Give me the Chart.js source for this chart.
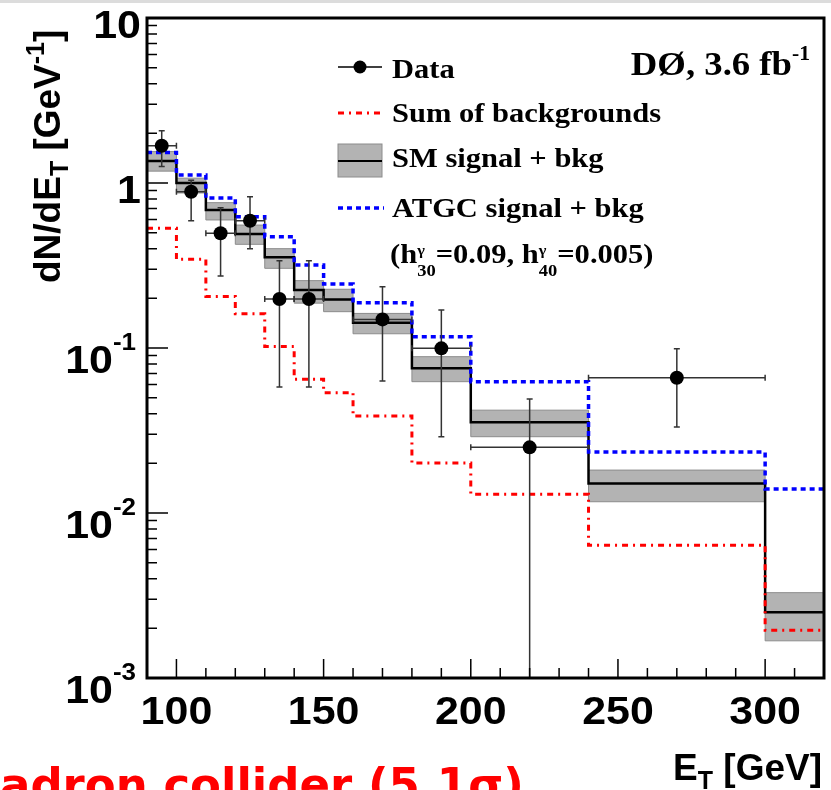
<!DOCTYPE html>
<html>
<head>
<meta charset="utf-8">
<script src="https://cdn.jsdelivr.net/npm/chart.js@4.4.1/dist/chart.umd.min.js"></script>
<style>
html, body { margin: 0; padding: 0; background: #fff; }
#wrap { width: 831px; height: 790px; overflow: hidden; }
</style>
</head>
<body>
<div id="wrap"><canvas id="graficoEt" width="831" height="790"></canvas></div>
<script>
// bin edges of the E_T histogram (GeV)
var binEdges = [90, 100, 110, 120, 130, 140, 150, 160, 180, 200, 240, 300, 320];

// SM signal + bkg: central value and band
var smCentral = [1.36, 1.0, 0.686, 0.49, 0.355, 0.225, 0.197, 0.142, 0.0753, 0.0355, 0.0151, 0.0025];
var smUp      = [1.55, 1.07, 0.76, 0.556, 0.40, 0.256, 0.227, 0.162, 0.0886, 0.042, 0.0182, 0.00329];
var smDown    = [1.18, 0.87, 0.597, 0.425, 0.304, 0.187, 0.166, 0.122, 0.0625, 0.029, 0.0117, 0.00168];

// ATGC signal + bkg
var atgc = [1.53, 1.12, 0.81, 0.625, 0.473, 0.318, 0.244, 0.188, 0.117, 0.0625, 0.0234, 0.0140];

// sum of backgrounds
var bkg = [0.531, 0.345, 0.205, 0.161, 0.102, 0.0646, 0.0536, 0.0387, 0.0201, 0.0130, 0.00637, 0.00195];

// data points
var dataX    = [95, 105, 115, 125, 135, 145, 170, 190, 220, 270];
var dataY    = [1.68, 0.885, 0.496, 0.59, 0.198, 0.198, 0.149, 0.0995, 0.025, 0.066];
var dataHi   = [2.07, 1.04, 0.708, 0.826, 0.338, 0.338, 0.235, 0.17, 0.049, 0.099];
var dataLo   = [1.26, 0.59, 0.273, 0.40, 0.058, 0.058, 0.063, 0.029, 0.0001, 0.0332];
var dataXLo  = [90, 100, 110, 120, 130, 140, 160, 180, 200, 240];
var dataXHi  = [100, 110, 120, 130, 140, 150, 180, 200, 240, 300];

// axis ticks
var xTickVals = [100, 150, 200, 250, 300];
var xTickLabels = ['100', '150', '200', '250', '300'];
var yTickVals = [10, 1, 0.1, 0.01, 0.001];
var yTickBase = ['10', '1', '10', '10', '10'];
var yTickExp = ['', '', '-1', '-2', '-3'];

var SANS = '"Liberation Sans", Arial, sans-serif';
var SERIF = '"Liberation Serif", "Times New Roman", serif';

function stepPoints(vals) {
    var pts = [];
    for (var i = 0; i < vals.length; i++) {
        pts.push({x: binEdges[i], y: vals[i]});
    }
    pts.push({x: binEdges[binEdges.length - 1], y: vals[vals.length - 1]});
    return pts;
}

var puntiDati = [];
for (var i = 0; i < dataX.length; i++) {
    puntiDati.push({x: dataX[i], y: dataY[i]});
}

// draws a list of text pieces (with sub/superscripts) one after another
function drawParts(ctx, parts, x, y, sx, align) {
    var total = 0;
    parts.forEach(function (p) {
        ctx.font = p.f;
        p.w = ctx.measureText(p.t).width * sx;
        if (!p.keep) total += p.w;
    });
    var cx = x;
    if (align === 'right') cx = x - total;
    if (align === 'center') cx = x - total / 2;
    parts.forEach(function (p) {
        ctx.save();
        ctx.font = p.f;
        ctx.translate(cx, y + (p.dy || 0));
        ctx.scale(sx, 1);
        ctx.textAlign = 'left';
        ctx.textBaseline = 'alphabetic';
        ctx.fillText(p.t, 0, 0);
        ctx.restore();
        if (!p.keep) cx += p.w;
    });
}

var DATA_INDEX = 5;

var disegno = {
    id: 'disegno',
    beforeDraw: function (chart) {
        var ctx = chart.ctx;
        ctx.save();
        ctx.fillStyle = '#fff';
        ctx.fillRect(0, 0, chart.width, chart.height);
        ctx.fillStyle = '#dcdcdc';
        ctx.fillRect(0, 0, chart.width, 3);
        ctx.restore();
    },
    beforeDatasetDraw: function (chart, args) {
        if (args.index !== DATA_INDEX) return;
        var ctx = chart.ctx, xs = chart.scales.x, ys = chart.scales.y, a = chart.chartArea;
        ctx.save();
        ctx.beginPath();
        ctx.rect(a.left, a.top, a.right - a.left, a.bottom - a.top);
        ctx.clip();
        ctx.strokeStyle = '#333';
        ctx.lineWidth = 1.5;
        for (var i = 0; i < dataX.length; i++) {
            var px = xs.getPixelForValue(dataX[i]);
            var py = ys.getPixelForValue(dataY[i]);
            var pHi = ys.getPixelForValue(dataHi[i]);
            var pLo = ys.getPixelForValue(dataLo[i]);
            var pL = xs.getPixelForValue(dataXLo[i]);
            var pR = xs.getPixelForValue(dataXHi[i]);
            ctx.beginPath();
            ctx.moveTo(px, pHi); ctx.lineTo(px, pLo);
            ctx.moveTo(px - 3, pHi); ctx.lineTo(px + 3, pHi);
            ctx.moveTo(px - 3, pLo); ctx.lineTo(px + 3, pLo);
            ctx.moveTo(pL, py); ctx.lineTo(pR, py);
            ctx.moveTo(pL, py - 3); ctx.lineTo(pL, py + 3);
            ctx.moveTo(pR, py - 3); ctx.lineTo(pR, py + 3);
            ctx.stroke();
        }
        ctx.restore();
    },
    afterDraw: function (chart) {
        var ctx = chart.ctx, xs = chart.scales.x, ys = chart.scales.y, a = chart.chartArea;
        ctx.save();
        ctx.fillStyle = '#000';
        ctx.strokeStyle = '#000';

        // ticks inside the frame
        ctx.lineWidth = 1.5;
        ctx.beginPath();
        for (var k = -3; k <= 1; k++) {
            for (var m = 1; m <= 9; m++) {
                var v = m * Math.pow(10, k);
                if (v > 10.0001) break;
                var py = ys.getPixelForValue(v);
                ctx.moveTo(a.left, py);
                ctx.lineTo(a.left + (m === 1 ? 21 : 10), py);
            }
        }
        for (var xv = 100; xv <= 320; xv += 10) {
            var px = xs.getPixelForValue(xv);
            ctx.moveTo(px, a.bottom);
            ctx.lineTo(px, a.bottom - (xv % 50 === 0 ? 19 : 10));
        }
        ctx.stroke();

        // frame
        ctx.lineWidth = 3;
        ctx.strokeRect(a.left, a.top, a.right - a.left, a.bottom - a.top);

        // y tick labels
        for (var i = 0; i < yTickVals.length; i++) {
            var ty = ys.getPixelForValue(yTickVals[i]);
            if (yTickExp[i] === '') {
                drawParts(ctx, [{t: yTickBase[i], f: 'bold 38px ' + SANS}], 141, ty + 20, 1.13, 'right');
            } else {
                drawParts(ctx, [
                    {t: yTickBase[i], f: 'bold 38px ' + SANS, dy: 25},
                    {t: yTickExp[i], f: 'bold 23px ' + SANS, dy: 2}
                ], 136, ty, 1.13, 'right');
            }
        }
        // x tick labels
        for (var j = 0; j < xTickVals.length; j++) {
            drawParts(ctx, [{t: xTickLabels[j], f: 'bold 38px ' + SANS}], xs.getPixelForValue(xTickVals[j]), 724, 1.13, 'center');
        }

        // axis titles
        ctx.save();
        ctx.translate(60, 283);
        ctx.rotate(-Math.PI / 2);
        drawParts(ctx, [
            {t: 'dN/dE', f: 'bold 37px ' + SANS},
            {t: 'T', f: 'bold 25px ' + SANS, dy: 8},
            {t: ' [GeV', f: 'bold 37px ' + SANS},
            {t: '-1', f: 'bold 25px ' + SANS, dy: -16},
            {t: ']', f: 'bold 37px ' + SANS}
        ], 0, 0, 1, 'left');
        ctx.restore();
        drawParts(ctx, [
            {t: 'E', f: 'bold 37px ' + SANS},
            {t: 'T', f: 'bold 25px ' + SANS, dy: 9},
            {t: ' [GeV]', f: 'bold 37px ' + SANS}
        ], 822, 780, 1, 'right');

        // legend symbols
        ctx.lineWidth = 1.5;
        ctx.beginPath();
        ctx.moveTo(338, 67); ctx.lineTo(382, 67);
        ctx.stroke();
        ctx.beginPath();
        ctx.arc(360, 67, 6.5, 0, Math.PI * 2);
        ctx.fill();

        ctx.strokeStyle = '#ff0000';
        ctx.lineWidth = 3;
        ctx.setLineDash([6, 5, 2, 5]);
        ctx.beginPath();
        ctx.moveTo(338, 113); ctx.lineTo(384, 113);
        ctx.stroke();

        ctx.strokeStyle = '#0000ff';
        ctx.lineWidth = 3.5;
        ctx.setLineDash([5, 4]);
        ctx.beginPath();
        ctx.moveTo(338, 208); ctx.lineTo(384, 208);
        ctx.stroke();
        ctx.setLineDash([]);

        ctx.fillStyle = '#b3b3b3';
        ctx.fillRect(338, 144, 44, 33);
        ctx.strokeStyle = '#8c8c8c';
        ctx.lineWidth = 1;
        ctx.strokeRect(338, 144, 44, 33);
        ctx.strokeStyle = '#000';
        ctx.lineWidth = 2;
        ctx.beginPath();
        ctx.moveTo(338, 161); ctx.lineTo(382, 161);
        ctx.stroke();

        // legend texts
        ctx.fillStyle = '#000';
        var lf = 'bold 28px ' + SERIF;
        drawParts(ctx, [{t: 'Data', f: lf}], 392, 78, 1.09, 'left');
        drawParts(ctx, [{t: 'Sum of backgrounds', f: lf}], 392, 122, 1.09, 'left');
        drawParts(ctx, [{t: 'SM signal + bkg', f: lf}], 392, 167, 1.09, 'left');
        drawParts(ctx, [{t: 'ATGC signal + bkg', f: lf}], 392, 217, 1.09, 'left');
        drawParts(ctx, [
            {t: '(h', f: lf},
            {t: 'γ', f: 'bold 15px ' + SERIF, dy: -8, keep: true},
            {t: '30', f: 'bold 17px ' + SERIF, dy: 13},
            {t: '=0.09, h', f: lf},
            {t: 'γ', f: 'bold 15px ' + SERIF, dy: -8, keep: true},
            {t: '40', f: 'bold 17px ' + SERIF, dy: 13},
            {t: '=0.005)', f: lf}
        ], 390, 263, 1.09, 'left');
        drawParts(ctx, [
            {t: 'DØ, 3.6 fb', f: 'bold 34px ' + SERIF},
            {t: '-1', f: 'bold 20px ' + SERIF, dy: -15}
        ], 810, 75, 1.08, 'right');

        // caption cut by the bottom edge
        ctx.fillStyle = '#ff0000';
        ctx.font = 'bold 45px "DejaVu Sans", sans-serif';
        ctx.textAlign = 'left';
        ctx.fillText('hadron collider (5.1σ)', -32, 800);
        ctx.restore();
    }
};

var ctx = document.getElementById('graficoEt');
var chart = new Chart(ctx, {
    type: 'line',
    data: {
        datasets: [{
            label: 'SM band up',
            data: stepPoints(smUp),
            stepped: 'before',
            borderColor: '#8c8c8c',
            borderWidth: 1,
            backgroundColor: '#b3b3b3',
            fill: '+1',
            pointRadius: 0,
            order: 5
        }, {
            label: 'SM band down',
            data: stepPoints(smDown),
            stepped: 'before',
            borderColor: '#8c8c8c',
            borderWidth: 1,
            fill: false,
            pointRadius: 0,
            order: 4
        }, {
            label: 'SM signal + bkg',
            data: stepPoints(smCentral),
            stepped: 'before',
            borderColor: '#000',
            borderWidth: 2.5,
            fill: false,
            pointRadius: 0,
            order: 3
        }, {
            label: 'Sum of backgrounds',
            data: stepPoints(bkg),
            stepped: 'before',
            borderColor: '#ff0000',
            borderWidth: 3,
            borderDash: [6, 5, 2, 5],
            fill: false,
            pointRadius: 0,
            order: 2
        }, {
            label: 'ATGC signal + bkg',
            data: stepPoints(atgc),
            stepped: 'before',
            borderColor: '#0000ff',
            borderWidth: 3.5,
            borderDash: [5, 4],
            fill: false,
            pointRadius: 0,
            order: 1
        }, {
            label: 'Data',
            data: puntiDati,
            showLine: false,
            pointRadius: 7,
            pointBackgroundColor: '#000',
            pointBorderColor: '#000',
            pointBorderWidth: 0,
            order: 0
        }]
    },
    options: {
        responsive: false,
        animation: false,
        devicePixelRatio: 1,
        layout: { padding: { left: 147, right: 6, top: 18, bottom: 112 } },
        plugins: { legend: { display: false }, tooltip: { enabled: false } },
        scales: {
            x: { type: 'linear', min: 90, max: 320, display: false },
            y: { type: 'logarithmic', min: 0.001, max: 10, display: false }
        }
    },
    plugins: [disegno]
});
</script>
</body>
</html>
